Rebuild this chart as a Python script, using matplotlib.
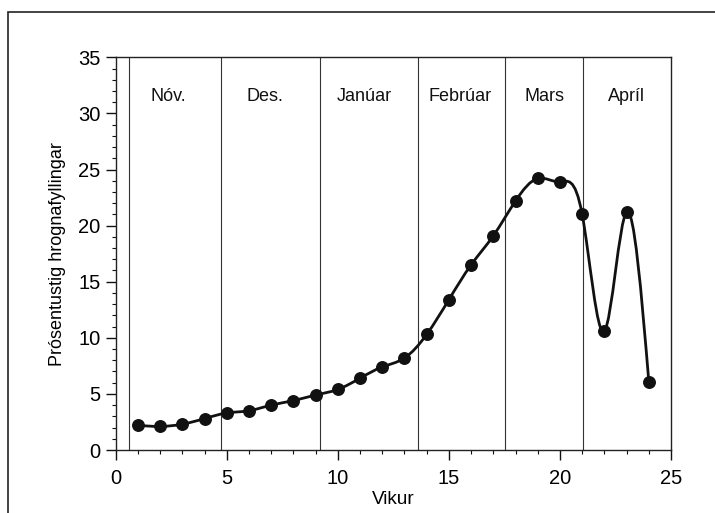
import numpy as np
import matplotlib
matplotlib.use("Agg")
import matplotlib.pyplot as plt
from matplotlib.path import Path
from matplotlib.patches import PathPatch, Rectangle
from matplotlib.ticker import MultipleLocator

plt.rcParams['font.family'] = ['Liberation Sans', 'DejaVu Sans']

# weekly values
weeks = list(range(1, 25))
pct = [2.2, 2.1, 2.3, 2.8, 3.3, 3.5, 4.0, 4.4, 4.9, 5.4, 6.4, 7.4,
       8.2, 10.3, 13.4, 16.5, 19.1, 22.2, 24.2, 23.9, 21.0, 10.6, 21.2, 6.1]

# month boundaries and labels
month_edges = [0.62, 4.76, 9.19, 13.59, 17.54, 21.04]
month_names = ["Nóv.", "Des.", "Janúar", "Febrúar", "Mars", "Apríl"]
month_label_x = [2.35, 6.7, 11.2, 15.5, 19.3, 23.0]


def spline_path(x, y):
    # natural cubic spline through the points, written as bezier segments
    x = np.asarray(x, float)
    y = np.asarray(y, float)
    n = len(x)
    h = np.diff(x)
    A = np.zeros((n, n))
    r = np.zeros(n)
    A[0, 0] = 1
    A[-1, -1] = 1
    for i in range(1, n - 1):
        A[i, i - 1] = h[i - 1]
        A[i, i] = 2 * (h[i - 1] + h[i])
        A[i, i + 1] = h[i]
        r[i] = 6 * ((y[i + 1] - y[i]) / h[i] - (y[i] - y[i - 1]) / h[i - 1])
    M = np.linalg.solve(A, r)
    m = np.zeros(n)
    for i in range(n - 1):
        m[i] = (y[i + 1] - y[i]) / h[i] - h[i] * (2 * M[i] + M[i + 1]) / 6
    m[-1] = (y[-1] - y[-2]) / h[-1] + h[-1] * (M[-2] + 2 * M[-1]) / 6
    verts = [(x[0], y[0])]
    codes = [Path.MOVETO]
    for i in range(n - 1):
        verts += [(x[i] + h[i] / 3, y[i] + m[i] * h[i] / 3),
                  (x[i + 1] - h[i] / 3, y[i + 1] - m[i + 1] * h[i] / 3),
                  (x[i + 1], y[i + 1])]
        codes += [Path.CURVE4] * 3
    return Path(verts, codes)


fig = plt.figure(figsize=(7.15, 5.13), dpi=100)
ax = fig.add_axes([0.1618, 0.1228, 0.7767, 0.7655])

for e in month_edges:
    ax.axvline(e, color="#333333", lw=0.8, zorder=1)
for lx, name in zip(month_label_x, month_names):
    ax.text(lx, 31.5, name, ha="center", va="center", fontsize=13, color="#111111")

ax.add_patch(PathPatch(spline_path(weeks, pct), facecolor="none",
                       edgecolor="#111111", lw=2.0, zorder=3))
ax.plot(weeks, pct, "o", color="#111111", markersize=8.3, zorder=4)

ax.set_xlim(0, 25)
ax.set_ylim(0, 35)
ax.xaxis.set_major_locator(MultipleLocator(5))
ax.xaxis.set_minor_locator(MultipleLocator(1))
ax.yaxis.set_major_locator(MultipleLocator(5))
ax.yaxis.set_minor_locator(MultipleLocator(1))
ax.tick_params(which="major", direction="out", length=7, width=1, labelsize=14.5,
               color="#111111", pad=4)
ax.tick_params(axis="x", which="major", pad=6.5)
ax.tick_params(which="minor", direction="out", length=3.2, width=0.8, color="#111111")
for s in ax.spines.values():
    s.set_linewidth(1)
    s.set_color("#222222")

ax.set_xlabel("Vikur", fontsize=13.7, labelpad=2.5)
ax.set_ylabel("Prósentustig hrognafyllingar", fontsize=13, labelpad=9)

# outer frame of the original figure (only top and left edges visible)
fig.patches.append(Rectangle((8 / 715, -0.2), 1.2, (513 - 12) / 513 + 0.2,
                             transform=fig.transFigure, fill=False,
                             edgecolor="#222222", lw=1.2, clip_on=False))

fig.savefig("out.png", dpi=100)
